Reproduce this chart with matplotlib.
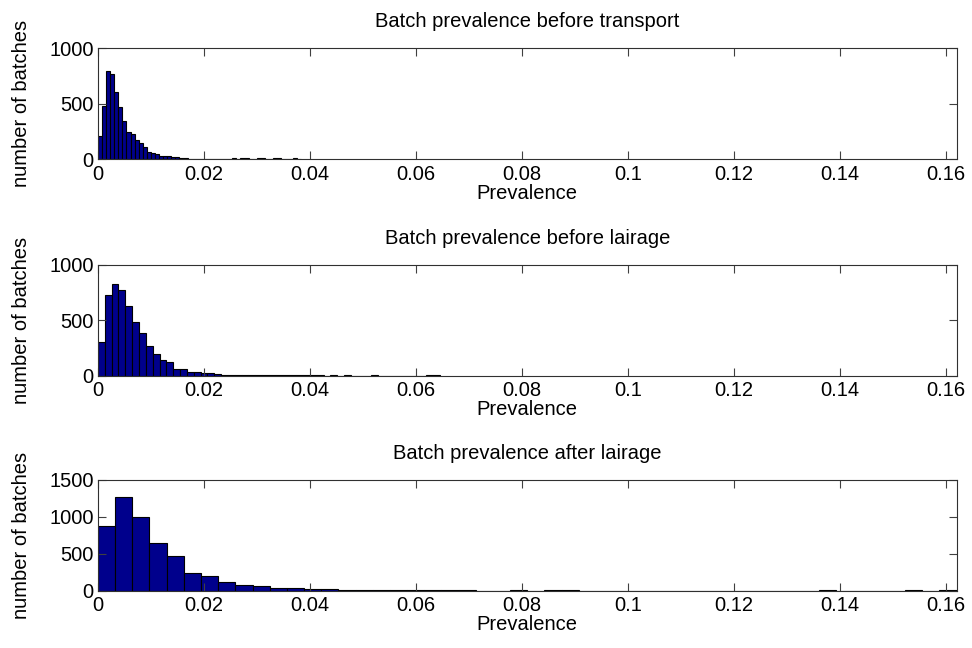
import numpy as np
import matplotlib
matplotlib.use("Agg")
import matplotlib.pyplot as plt

plt.rcParams['font.family'] = ['Liberation Sans', 'DejaVu Sans']

# histogram counts, 50 bins each, starting at 0
transport_width = 0.000768
transport_counts = [213, 480, 795, 771, 609, 474, 345, 249, 225, 171,
                    150, 114, 69, 57, 45, 33, 30, 33, 24, 18,
                    9, 8, 6, 5, 4, 3, 3, 3, 2, 2,
                    2, 1, 1, 8, 0, 8, 8, 0, 0, 8,
                    8, 0, 0, 8, 8, 0, 0, 0, 8, 0]

lairage_width = 0.00129
lairage_counts = [299, 728, 828, 767, 625, 483, 387, 266, 193, 139,
                  121, 60, 60, 33, 33, 24, 24, 12, 8, 6,
                  5, 4, 3, 3, 2, 5, 5, 5, 5, 5,
                  5, 5, 1, 0, 1, 0, 5, 0, 0, 0,
                  5, 0, 0, 0, 0, 0, 0, 0, 5, 5]

after_width = 0.00324
after_counts = [874, 1269, 995, 641, 470, 237, 193, 121, 76, 58,
                31, 31, 25, 20, 12, 8, 7, 6, 5, 4,
                3, 3, 2, 0, 6, 0, 6, 6, 0, 0,
                0, 0, 0, 0, 0, 0, 0, 0, 0, 0,
                0, 0, 6, 0, 0, 0, 0, 6, 0, 6]

titles = ["Batch prevalence before transport",
          "Batch prevalence before lairage",
          "Batch prevalence after lairage"]
xticks = [0, 0.02, 0.04, 0.06, 0.08, 0.1, 0.12, 0.14, 0.16]
xticklabels = ["0", "0.02", "0.04", "0.06", "0.08", "0.1", "0.12", "0.14", "0.16"]
yticks_list = [[0, 500, 1000], [0, 500, 1000], [0, 500, 1000, 1500]]
ylims = [1000, 1000, 1500]

panels = [(transport_width, transport_counts),
          (lairage_width, lairage_counts),
          (after_width, after_counts)]

fig = plt.figure(figsize=(9.72, 6.48), dpi=100)
bottoms = [0.7542, 0.4205, 0.0884]
fs = 14.5

for i, (w, counts) in enumerate(panels):
    ax = fig.add_axes([0.1008, bottoms[i], 0.8833, 0.1713])
    lefts = np.arange(len(counts)) * w
    ax.bar(lefts, counts, width=w, align='edge', color='#00008c',
           edgecolor='black', linewidth=0.8)
    ax.set_xlim(0, 0.162)
    ax.set_ylim(0, ylims[i])
    ax.set_xticks(xticks)
    ax.set_xticklabels(xticklabels)
    ax.set_yticks(yticks_list[i])
    ax.tick_params(direction='in', length=6, width=0.8, color='#404040',
                   top=True, right=True, labelsize=fs)
    ax.tick_params(axis='x', pad=4)
    ax.tick_params(axis='y', pad=3)
    for s in ax.spines.values():
        s.set_color('#303030')
        s.set_linewidth(0.8)
    ax.set_title(titles[i], fontsize=fs, pad=15)
    ax.set_xlabel("Prevalence", fontsize=fs, labelpad=0)
    ax.set_ylabel("number of batches", fontsize=fs, labelpad=13)

fig.savefig("out.png", dpi=100)
